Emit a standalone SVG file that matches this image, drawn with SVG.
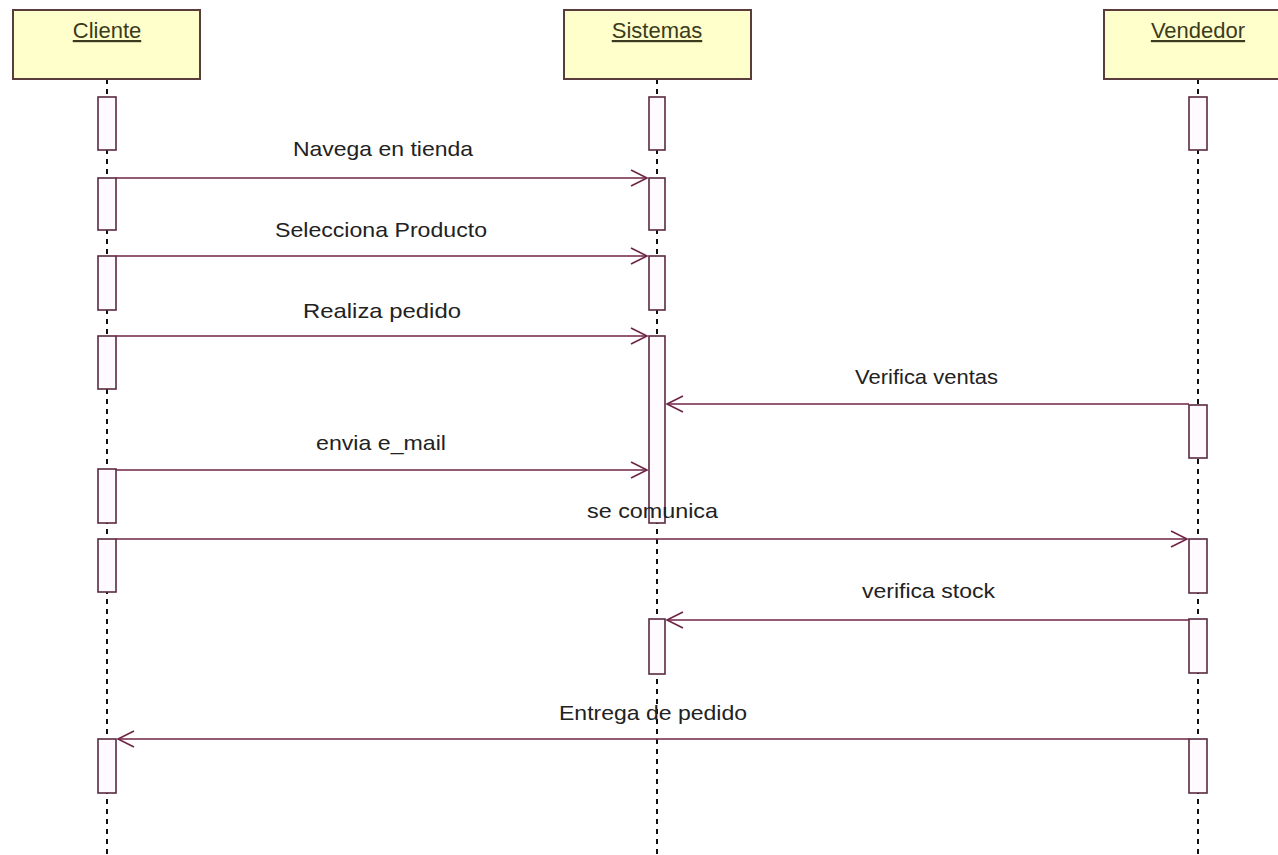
<svg xmlns="http://www.w3.org/2000/svg" width="1278" height="855" viewBox="0 0 1278 855">
<defs>
<style>
.head{fill:#ffffcc;stroke:#5a3c3c;stroke-width:2}
.htxt{font-family:"Liberation Sans",Arial,sans-serif;font-size:22px;fill:#3b3b20;text-anchor:middle;text-decoration:underline}
.life{stroke:#111;stroke-width:2;stroke-dasharray:5 5;fill:none}
.act{fill:#fffafd;stroke:#5a2a40;stroke-width:1.6}
.msg{stroke:#6e2545;stroke-width:1.6;fill:none;marker-end:url(#arr)}
.mtxt{font-family:"Liberation Sans",Arial,sans-serif;font-size:21px;fill:#222}
</style>
<marker id="arr" markerUnits="userSpaceOnUse" markerWidth="20" markerHeight="20" refX="17" refY="9" orient="auto">
<path d="M1,1 L17,9 L1,17" fill="none" stroke="#6e2545" stroke-width="1.6"/>
</marker>
</defs>
<rect width="1278" height="855" fill="#ffffff"/>
<g id="lifelines">
<line class="life" x1="107" y1="79" x2="107" y2="855"/>
<line class="life" x1="657" y1="79" x2="657" y2="855"/>
<line class="life" x1="1198" y1="79" x2="1198" y2="855"/>
</g>
<g id="Cliente">
<rect class="head" x="13" y="10" width="187" height="69"/>
<text class="htxt" x="107" y="38">Cliente</text>
<rect class="act" x="98" y="97" width="18" height="53"/>
<rect class="act" x="98" y="178" width="18" height="52"/>
<rect class="act" x="98" y="256" width="18" height="54"/>
<rect class="act" x="98" y="336" width="18" height="53"/>
<rect class="act" x="98" y="469" width="18" height="54"/>
<rect class="act" x="98" y="539" width="18" height="53"/>
<rect class="act" x="98" y="739" width="18" height="54"/>
</g>
<g id="Sistemas">
<rect class="head" x="564" y="10" width="187" height="69"/>
<text class="htxt" x="657" y="38">Sistemas</text>
<rect class="act" x="649" y="97" width="16" height="53"/>
<rect class="act" x="649" y="178" width="16" height="52"/>
<rect class="act" x="649" y="256" width="16" height="54"/>
<rect class="act" x="649" y="336" width="16" height="187"/>
<rect class="act" x="649" y="619" width="16" height="55"/>
</g>
<g id="Vendedor">
<rect class="head" x="1104" y="10" width="190" height="69"/>
<text class="htxt" x="1198" y="38">Vendedor</text>
<rect class="act" x="1189" y="97" width="18" height="53"/>
<rect class="act" x="1189" y="405" width="18" height="53"/>
<rect class="act" x="1189" y="539" width="18" height="54"/>
<rect class="act" x="1189" y="619" width="18" height="54"/>
<rect class="act" x="1189" y="739" width="18" height="54"/>
</g>
<g id="connectors">
<line class="msg" x1="116" y1="178" x2="647" y2="178"/>
<line class="msg" x1="116" y1="256" x2="647" y2="256"/>
<line class="msg" x1="116" y1="336" x2="647" y2="336"/>
<line class="msg" x1="1189" y1="404" x2="667" y2="404"/>
<line class="msg" x1="116" y1="470" x2="647" y2="470"/>
<line class="msg" x1="116" y1="539" x2="1187" y2="539"/>
<line class="msg" x1="1189" y1="620" x2="667" y2="620"/>
<line class="msg" x1="1189" y1="739" x2="118" y2="739"/>
</g>
<g id="labels">
<text class="mtxt" x="293" y="156" textLength="180" lengthAdjust="spacingAndGlyphs">Navega en tienda</text>
<text class="mtxt" x="275" y="237" textLength="212" lengthAdjust="spacingAndGlyphs">Selecciona Producto</text>
<text class="mtxt" x="303" y="318" textLength="158" lengthAdjust="spacingAndGlyphs">Realiza pedido</text>
<text class="mtxt" x="855" y="384" textLength="143" lengthAdjust="spacingAndGlyphs">Verifica ventas</text>
<text class="mtxt" x="316" y="450" textLength="130" lengthAdjust="spacingAndGlyphs">envia e_mail</text>
<text class="mtxt" x="587" y="518" textLength="131" lengthAdjust="spacingAndGlyphs">se comunica</text>
<text class="mtxt" x="862" y="598" textLength="133" lengthAdjust="spacingAndGlyphs">verifica stock</text>
<text class="mtxt" x="559" y="720" textLength="188" lengthAdjust="spacingAndGlyphs">Entrega de pedido</text>
</g>
</svg>
